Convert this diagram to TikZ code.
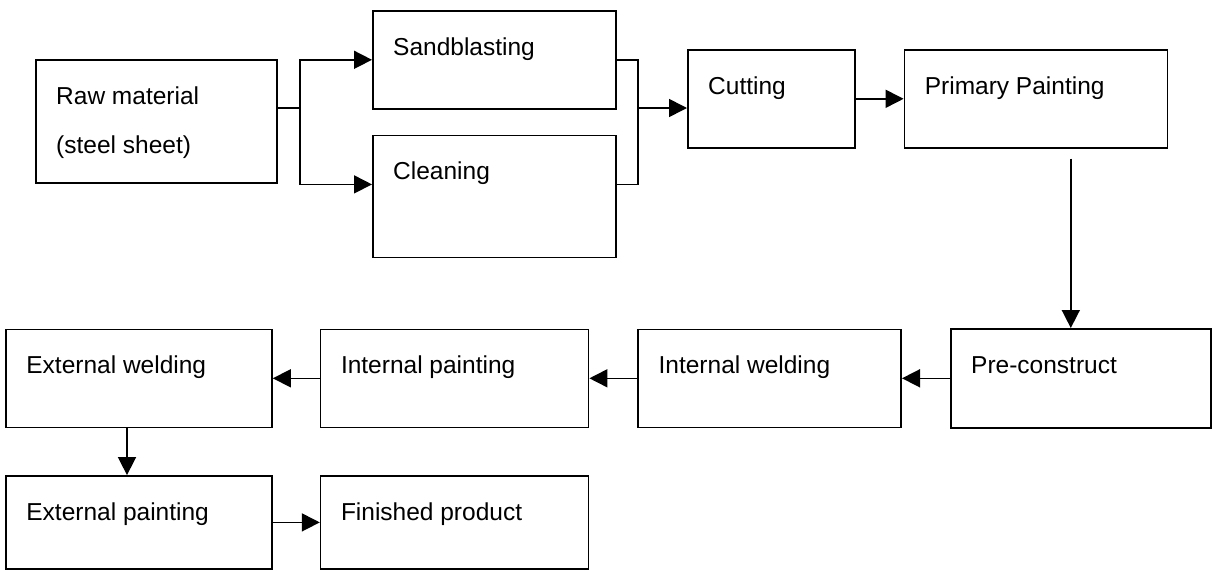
\documentclass[tikz,border=0pt]{standalone}
\usepackage{fontspec}
\setmainfont{Liberation Sans}
\usetikzlibrary{arrows.meta,positioning}

\begin{document}
\begin{tikzpicture}[x=1pt, y=-1pt,
    stage/.style={draw, line width=1.6pt, anchor=north west, inner sep=0pt, minimum height=98pt},
    txt/.style={anchor=base west, inner sep=0pt, xshift=21pt, yshift=-45pt, font=\fontsize{24.5}{29}\selectfont},
    link/.style={line width=1.6pt},
    flow/.style={line width=1.6pt, -{Triangle[length=18pt,width=18pt]}}]
    \useasboundingbox (0,0) rectangle (1212,570);
    \node[stage, minimum width=241pt, minimum height=123pt, label={[txt]north west:Raw material}, label={[txt,yshift=-49pt]north west:(steel sheet)}] (raw) at (35,59) {};
    \node[stage, minimum width=243pt, label={[txt]north west:Sandblasting}] (sand) at (372,10) {};
    \node[stage, minimum width=243pt, minimum height=122pt, below=25pt of sand, label={[txt]north west:Cleaning}] (clean) {};
    \node[stage, minimum width=167pt, label={[txt]north west:Cutting}] (cut) at (687,49) {};
    \node[stage, minimum width=263pt, right=48pt of cut, label={[txt]north west:Primary Painting}] (prim) {};
    \node[stage, minimum width=260pt, minimum height=99pt, label={[txt]north west:Pre-construct}] (pre) at (950,328) {};
    \node[stage, minimum width=263pt, left=48pt of pre, label={[txt]north west:Internal welding}] (iweld) {};
    \node[stage, minimum width=268pt, left=48pt of iweld, label={[txt]north west:Internal painting}] (ipaint) {};
    \node[stage, minimum width=266pt, left=47pt of ipaint, label={[txt]north west:External welding}] (eweld) {};
    \node[stage, minimum width=266pt, minimum height=93pt, below=47pt of eweld, label={[txt]north west:External painting}] (epaint) {};
    \node[stage, minimum width=268pt, minimum height=93pt, right=47pt of epaint, label={[txt]north west:Finished product}] (fin) {};
    \coordinate (fork) at (300,108);
    \coordinate (join) at (638,108);
    \draw[link] (raw.east |- fork) -- (fork);
    \draw[flow] (fork) |- (sand.west);
    \draw[flow] (fork) |- ([yshift=12pt]clean.west);
    \draw[link] (sand.east) -| (join) |- ([yshift=12pt]clean.east);
    \draw[flow] (join) -- (join -| cut.west);
    \draw[flow] (cut.east) -- (cut.east -| prim.west);
    \draw[flow] ([xshift=-10pt,yshift=-10pt]prim.south -| pre.north) -- ([xshift=-10pt]pre.north);
    \draw[flow] (pre.west) -- (iweld.east);
    \draw[flow] (iweld.west) -- (ipaint.east);
    \draw[flow] (ipaint.west) -- (eweld.east);
    \draw[flow] ([xshift=-12pt]eweld.south) -- ([xshift=-12pt]epaint.north);
    \draw[flow] (epaint.east) -- (fin.west);
\end{tikzpicture}
\end{document}
